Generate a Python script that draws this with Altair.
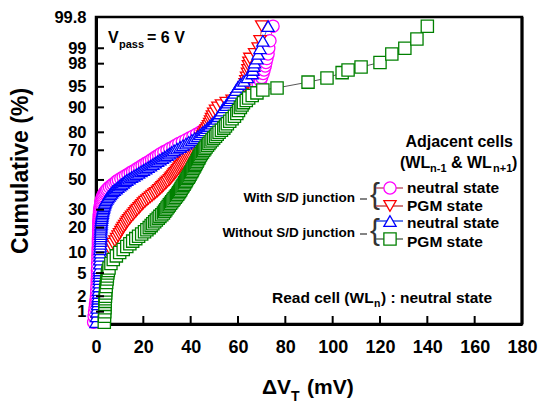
import altair as alt
import pandas as pd
from statistics import NormalDist

# ---------------- data ----------------
pct_low = [0.6, 0.8, 1, 1.2, 1.4, 1.6, 1.8, 2, 2.3, 2.6,
           3, 3.5, 4, 4.5, 5, 5.5, 6, 7, 8, 9]
pct_mid = list(range(10, 91))
pct_high = [90.7, 91.4, 92, 92.6, 93.2, 93.8, 94.4, 95, 95.5, 96,
            96.5, 97, 97.4, 97.8, 98.1, 98.4, 98.7, 99, 99.3, 99.67]
grn_high_pct = [90.7, 91.4, 92, 92.6, 93.2, 93.8, 94.4, 94.8, 95.8, 96.4,
                97.1, 97.4, 97.7, 98.1, 98.7, 99.0, 99.36, 99.67]

# With S/D junction, neutral state (circles)
mag_v = [-1.0, -0.8, -0.6, -0.4, -0.2, 0.0, 0.1, 0.2, 0.3, 0.3,
         0.4, 0.5, 0.5, 0.6, 0.6, 0.6, 0.7, 0.7, 0.8, 0.8,
         0.9, 0.9, 1.0, 1.0, 1.0, 1.0, 1.1, 1.1, 1.1, 1.1,
         1.2, 1.2, 1.2, 1.2, 1.3, 1.3, 1.4, 1.4, 1.5, 1.5,
         1.6, 1.7, 1.8, 1.9, 2.0, 2.1, 2.3, 2.5, 2.7, 2.9,
         3.2, 3.6, 4.0, 4.5, 5.0, 5.7, 6.5, 7.2, 8.0, 8.7,
         9.5, 10.5, 11.5, 12.5, 13.5, 14.5, 15.5, 16.5, 17.5, 18.5,
         19.5, 20.5, 21.5, 22.5, 23.5, 24.5, 25.5, 26.5, 27.5, 28.7,
         30.0, 31.2, 32.5, 33.7, 35.0, 36.5, 38.0, 39.5, 41.0, 42.5,
         44.0, 45.3, 46.5, 47.5, 48.5, 49.5, 50.5, 51.5, 52.5, 53.5,
         54.5,
         55.5, 56.5, 58.0, 60.0, 62.0, 64.0, 66.0, 67.0, 68.5, 69.5,
         70.0, 70.6, 71.0, 71.5, 71.8, 72.2, 72.7, 73.0, 73.5, 74.8]

# With S/D junction, PGM state (down triangles)
red_v = [0.5, 1.0, 1.4, 1.6, 1.8, 2.0, 2.1, 2.2, 2.4, 2.6,
         2.7, 2.9, 3.1, 3.3, 3.4, 3.6, 3.7, 4.0, 4.3, 4.7,
         5.2, 5.8, 6.5, 7.2, 8.0, 8.7, 9.3, 9.9, 10.5, 11.0,
         11.5, 12.1, 12.7, 13.2, 13.8, 14.4, 15.0, 15.7, 16.3, 16.9,
         17.5, 18.2, 18.8, 19.4, 20.0, 20.7, 21.5, 22.2, 23.0, 23.7,
         24.5, 25.2, 26.0, 26.6, 27.3, 27.9, 28.5, 29.1, 29.7, 30.3,
         31.0, 31.5, 32.0, 32.5, 33.0, 33.5, 34.0, 34.5, 35.0, 35.5,
         36.0, 36.5, 37.0, 37.5, 38.0, 38.5, 39.0, 39.5, 40.0, 40.5,
         41.0, 41.5, 42.0, 42.5, 43.0, 43.5, 44.0, 44.5, 45.0, 45.5,
         46.0, 46.5, 47.0, 47.5, 48.0, 48.4, 48.8, 49.2, 49.7, 50.5,
         51.5,
         53.0, 55.0, 57.5, 59.5, 61.0, 62.0, 62.4, 62.7, 63.0, 63.3,
         63.6, 64.0, 64.2, 64.4, 64.6, 65.0, 67.0, 68.5, 69.3, 70.0]

# Without S/D junction, neutral state (up triangles)
blu_v = [0.0, 0.2, 0.4, 0.5, 0.7, 0.8, 0.9, 1.0, 1.1, 1.1,
         1.2, 1.3, 1.4, 1.4, 1.5, 1.5, 1.5, 1.6, 1.6, 1.7,
         1.7, 1.7, 1.8, 1.8, 1.9, 1.9, 2.0, 2.0, 2.0, 2.0,
         2.1, 2.1, 2.2, 2.2, 2.3, 2.4, 2.5, 2.6, 2.7, 2.8,
         3.0, 3.1, 3.3, 3.5, 3.7, 3.9, 4.2, 4.6, 5.0, 5.5,
         6.0, 6.5, 7.0, 7.7, 8.5, 9.2, 10.0, 10.7, 11.5, 12.2,
         13.0, 14.0, 15.0, 16.0, 17.0, 18.0, 19.0, 20.0, 21.0, 22.0,
         23.0, 24.0, 25.0, 26.0, 27.0, 28.0, 29.0, 30.0, 31.0, 32.0,
         33.0, 34.2, 35.5, 36.7, 38.0, 39.2, 40.5, 41.7, 43.0, 44.0,
         45.0, 46.0, 47.0, 48.0, 49.0, 50.0, 51.0, 51.7, 52.5, 53.2,
         54.0,
         55.0, 55.7, 56.5, 57.2, 57.8, 58.5, 59.2, 60.0, 61.0, 62.5,
         64.0, 66.0, 66.3, 66.7, 67.0, 68.0, 68.5, 69.3, 70.5, 72.7]

# Without S/D junction, PGM state (squares)
grn_v = [3.5, 3.6, 3.7, 3.8, 3.8, 3.9, 3.9, 4.0, 4.1, 4.1,
         4.3, 4.5, 4.7, 4.8, 5.0, 5.2, 5.5, 6.3, 7.3, 8.6,
         10.0, 11.5, 13.0, 14.3, 15.5, 16.8, 18.0, 19.3, 20.5, 21.5,
         22.5, 23.3, 24.0, 24.8, 25.5, 26.3, 27.0, 27.8, 28.5, 29.0,
         29.5, 30.0, 30.5, 31.0, 31.5, 32.0, 32.5, 33.0, 33.5, 34.0,
         34.5, 34.9, 35.3, 35.7, 36.0, 36.4, 36.8, 37.2, 37.5, 37.9,
         38.2, 38.6, 39.0, 39.4, 39.7, 40.0, 40.4, 40.7, 41.0, 41.4,
         41.7, 42.0, 42.4, 42.7, 43.0, 43.4, 43.7, 44.1, 44.5, 45.0,
         45.5, 46.0, 46.5, 47.1, 47.7, 48.3, 49.0, 49.7, 50.5, 51.2,
         52.0, 53.0, 54.0, 54.7, 55.5, 56.5, 57.5, 58.5, 59.5, 60.2,
         61.0,
         61.7, 62.3, 63.5, 64.5, 66.0, 68.0, 70.5, 76.5, 89.6, 97.6,
         104.0, 106.5, 112.0, 120.0, 125.0, 130.5, 135.6, 140.0]

pct_main = pct_low + pct_mid + pct_high
pct_grn = pct_low + pct_mid + grn_high_pct

y_ticks = [1, 2, 5, 10, 20, 30, 50, 70, 80, 90, 95, 98, 99, 99.8]
y_tick_labels = ["1", "2", "5", "10", "20", "30", "50", "70", "80", "90", "95", "98", "99", "99.8"]
x_ticks = [0, 20, 40, 60, 80, 100, 120, 140, 160, 180]

# ---------------- probability (normal) scale ----------------
nd = NormalDist()
def zq(p):
    return nd.inv_cdf(p / 100.0)

Z_TOP = zq(99.8)
Z_BOT = -2.544

FONT = "Liberation Sans"
W, H = 426, 307

series = [
    ("mag", mag_v, pct_main, "circle", "#ff00ff", "#c06070"),
    ("red", red_v, pct_main, "triangle-down", "#ff0000", "#c05050"),
    ("blu", blu_v, pct_main, "triangle-up", "#0000ff", "#3050e0"),
    ("grn", grn_v, pct_grn, "square", "#008000", "#444444"),
]

xscale = alt.Scale(domain=[0, 180], nice=False, zero=False)
yscale = alt.Scale(domain=[Z_BOT, Z_TOP], nice=False, zero=False)

label_expr = ""
for zt, lab in zip([zq(t) for t in y_ticks], y_tick_labels):
    label_expr += f"abs(datum.value - ({zt:.5f})) < 0.001 ? '{lab}' : "
label_expr += "''"

xaxis = alt.Axis(values=x_ticks, grid=False, ticks=False, domainColor="black", domainWidth=3,
                 labelFont=FONT, labelFontSize=18, labelFontWeight="bold", labelColor="black",
                 labelPadding=14, title=None, labelFlush=False)
yaxis = alt.Axis(values=[zq(t) for t in y_ticks], grid=False, ticks=False, domainColor="black",
                 domainWidth=3, labelFont=FONT, labelFontSize=16.5, labelFontWeight="bold",
                 labelColor="black", labelPadding=10, title=None, labelExpr=label_expr,
                 labelFlush=False, labelOverlap=False)

X = lambda f: alt.X(f, scale=xscale, axis=xaxis)
Y = lambda f: alt.Y(f, scale=yscale, axis=yaxis)

lines = []
points = []
for name, vals, ps, shape, col, lcol in series:
    df = pd.DataFrame({"v": vals, "z": [zq(p) for p in ps], "idx": list(range(len(vals)))})
    lines.append(alt.Chart(df).mark_line(color=lcol, strokeWidth=0.9).encode(
        x=X("v:Q"), y=Y("z:Q"), order=alt.Order("idx:Q")))
    points.append(alt.Chart(df).mark_point(shape=shape, size=150, filled=True, fill="white",
                                           stroke=col, strokeWidth=1.3, opacity=1).encode(
        x=X("v:Q"), y=Y("z:Q")))

# inward ticks
xt = pd.DataFrame({"v": x_ticks[1:-1]})
yt = pd.DataFrame({"z": [zq(t) for t in y_ticks[:-1]]})
xtick_layer = alt.Chart(xt).mark_rule(color="black", strokeWidth=2).encode(
    x=X("v:Q"), y=alt.value(H), y2=alt.value(H - 8))
ytick_layer = alt.Chart(yt).mark_rule(color="black", strokeWidth=2).encode(
    y=Y("z:Q"), x=alt.value(0), x2=alt.value(8))

one = pd.DataFrame({"k": [0]})

def txt(s, x, y, size, align="left", weight="bold", angle=None, color="black", font=FONT):
    kw = dict(text=s, align=align, baseline="alphabetic", fontSize=size, fontWeight=weight,
              font=font, color=color)
    if angle is not None:
        kw["angle"] = angle
    return alt.Chart(one).mark_text(**kw).encode(x=alt.value(x), y=alt.value(y))

def hline(x1, x2, y, color, width=1.5):
    return alt.Chart(one).mark_rule(color=color, strokeWidth=width).encode(
        x=alt.value(x1), x2=alt.value(x2), y=alt.value(y))

def sym(shape, x, y, col):
    return alt.Chart(one).mark_point(shape=shape, size=150, filled=True, fill="white",
                                     stroke=col, strokeWidth=1.3, opacity=1).encode(
        x=alt.value(x), y=alt.value(y))

ann = [
    # right border
    alt.Chart(one).mark_rule(color="black", strokeWidth=3).encode(
        x=alt.value(W), y=alt.value(0), y2=alt.value(H)),
    # V_pass = 6 V
    txt("V", 12, 26, 16), txt("pass", 23, 31, 11), txt("= 6 V", 51, 26, 16),
    # Adjacent cells
    txt("Adjacent cells", 417, 130, 16, align="right"),
    txt("(WL", 304, 151, 16), txt("n-1", 334, 155, 11), txt("& WL", 355, 151, 16),
    txt("n+1", 397, 155, 11), txt(")", 416, 151, 16),
    # group labels and braces
    txt("With S/D junction", 259, 185, 13.5, align="right"),
    txt("Without S/D junction", 259, 220, 13.5, align="right"),
    hline(264, 271, 182, "#333333", 1.2),
    hline(264, 271, 217, "#333333", 1.2),
    txt("{", 279, 187, 30, align="center", weight="normal", color="#333333"),
    txt("{", 279, 223, 30, align="center", weight="normal", color="#333333"),
    # legend entries
    hline(280, 307, 171, "#c06070"), sym("circle", 294, 171, "#ff00ff"),
    hline(280, 307, 189, "#c05050"), sym("triangle-down", 294, 189, "#ff0000"),
    hline(280, 307, 204, "#3050e0"), sym("triangle-up", 294, 204, "#0000ff"),
    hline(280, 307, 222, "#607060"), sym("square", 294, 222, "#008000"),
    txt("neutral state", 311, 176, 15.5), txt("PGM state", 311, 194, 15.5),
    txt("neutral state", 311, 211, 15.5), txt("PGM state", 311, 230, 15.5),
    # read cell
    txt("Read cell (WL", 176, 286, 15.5), txt("n", 278, 290, 10.5),
    txt(") : neutral state", 285, 286, 15.5),
    # axis titles
    txt("\u0394V", 195, 377, 21, align="right"), txt("T", 195, 384, 14),
    txt("(mV)", 211, 377, 21),
    txt("Cumulative (%)", -68, 154, 23, align="center", angle=270),
]

chart = alt.layer(*lines, *points, xtick_layer, ytick_layer, *ann).properties(
    width=W, height=H,
    autosize=alt.AutoSizeParams(type="none"),
    padding={"left": 96, "top": 17, "right": 18, "bottom": 79},
    background="white",
).configure_view(stroke="black", strokeWidth=2.5)

chart.save("out.html", embed_options={"renderer": "svg", "actions": False})
